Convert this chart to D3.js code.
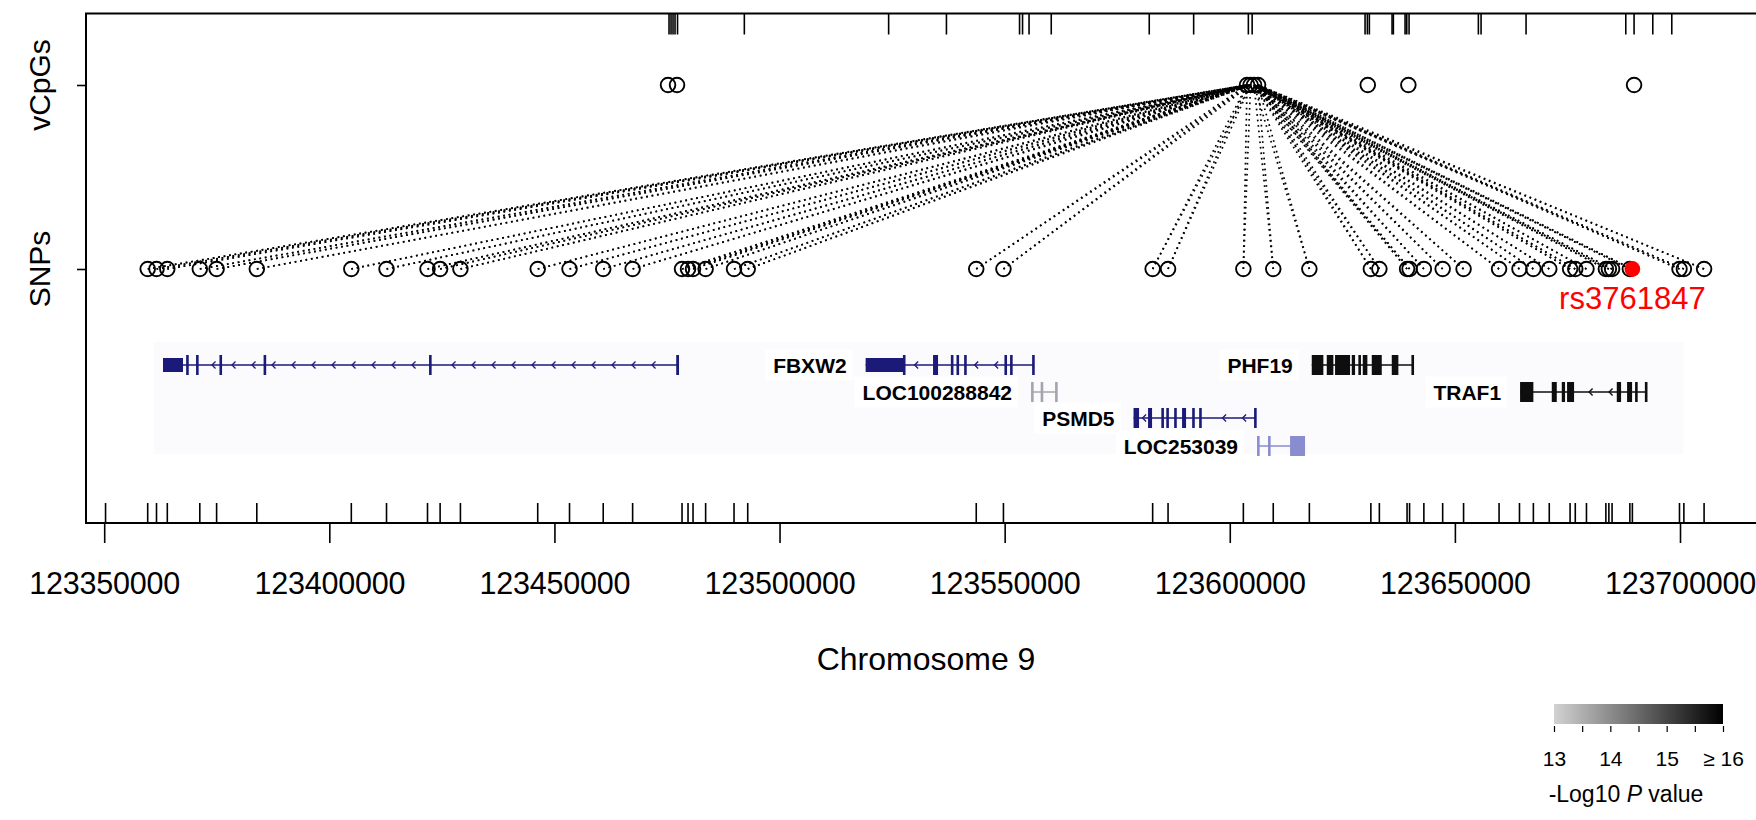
<!DOCTYPE html>
<html>
<head>
<meta charset="utf-8">
<script src="https://cdn.jsdelivr.net/npm/d3@7"></script>
<style>
  html, body { margin: 0; padding: 0; background: #ffffff; }
  svg { display: block; font-family: "Liberation Sans", Arial, Helvetica, sans-serif; }
</style>
</head>
<body>
<svg id="chart" width="1756" height="820"></svg>
<script>
// ---------------- data (chromosome 9 coordinates, bp) ----------------
const axisTicks = [123350000, 123400000, 123450000, 123500000, 123550000, 123600000, 123650000, 123700000];
const axisTitle = "Chromosome 9";
const trackNames = ["SNPs", "vCpGs"];

// associated vCpGs (circles) and all CpGs tested (top rug)
const vcpgPos = [123475231, 123477231, 123603839, 123604616, 123605394, 123606282, 123630649, 123639667, 123689799];
const cpgRugPos = [
  123475453, 123475897, 123476342, 123476786, 123477341, 123492179, 123524231, 123537070,
  123553306, 123553973, 123555417, 123560348, 123582115, 123591978, 123604128, 123604972,
  123630049, 123630560, 123631004, 123636046, 123636335, 123638934, 123639312, 123639823,
  123655215, 123655815, 123665810, 123687956, 123689799, 123693953, 123698173
];

// associated SNPs (circles)
const snpPos = [
  123359662, 123361617, 123364016, 123371235, 123374966, 123383896, 123404886, 123412705,
  123421811, 123424610, 123429119, 123446289, 123453352, 123460838, 123467368, 123478341,
  123479674, 123480784, 123483583, 123489891, 123492934, 123543689, 123549730, 123582871,
  123586292, 123603017, 123609658, 123617677, 123631337, 123633225, 123639379, 123639933,
  123643110, 123647286, 123651930, 123659813, 123664345, 123667432, 123670963, 123675584,
  123676739, 123679225, 123683535, 123684201, 123684912, 123688864, 123689422, 123699884,
  123700861, 123705350
];
// SNPs tested (bottom rug)
const snpRugPos = [123350300, ...snpPos];

// index into vcpgPos of the vCpGs each SNP is associated with
const snpTargets = [
  [2,3],[2,3],[2,3],[2,3],[2,3],[2,3],[2,3],[2,3],[2,3],[2,3],
  [2,3],[2,3],[2,3],[2,3],[2,3],[2,3],[2,3],[2,3],[2,3],[2,3],
  [2,3],[2,3],[2,3],[2,3],[2,3],[2,3],[4,5],[4,5],[4,5],[4,5],
  [4,5],[4,5],[4,5],[4,5],[4,5],[4,5],[4,5],[4,5],[4,5],[4,5],
  [4,5],[4,5],[4,5],[4,5],[4,5],[4,5],[4,5],[4,5],[4,5],[4,5]
];
const leadSnpId = "rs3761847";
const leadSnpPos = 123689422;

// gene models: exons as [start, end, coding(1)/UTR(0)]
const geneNames  = ["MEGF9", "FBXW2", "LOC100288842", "PSMD5", "LOC253039", "PHF19", "TRAF1"];
const geneLabels = [null, "FBXW2", "LOC100288842", "PSMD5", "LOC253039", "PHF19", "TRAF1"];
const geneStrand = ["-", "-", "+", "-", "+", "-", "-"];
const geneExons = [
  [[123363061,123367503,0],[123368200,123368650,1],[123370400,123370850,1],[123375600,123376050,1],
   [123385400,123385850,1],[123422150,123422600,1],[123477050,123477674,1]],
  [[123519122,123527652,0],[123527400,123527800,1],[123534093,123535204,1],[123538050,123538500,1],
   [123539300,123539750,1],[123541000,123541450,1],[123549950,123550400,1],[123551200,123551650,1],
   [123556100,123556527,1]],
  [[123555861,123556300,1],[123558000,123558450,1],[123561200,123561636,1]],
  [[123578628,123579851,1],[123581850,123582738,1],[123584800,123585250,1],[123585900,123586350,1],
   [123587650,123588100,1],[123589402,123590291,1],[123591650,123592100,1],[123593200,123593650,1],
   [123605400,123605838,1]],
  [[123606060,123606500,1],[123608500,123608950,1],[123613390,123616721,1]],
  [[123618210,123620787,1],[123621542,123623008,1],[123623385,123626717,1],[123627095,123627828,1],
   [123628561,123628939,1],[123629538,123630560,1],[123631537,123633758,1],[123635980,123637446,1],
   [123640350,123640777,1]],
  [[123664480,123667432,1],[123671519,123672630,1],[123673740,123674473,1],[123674917,123676472,1],
   [123685957,123686912,1],[123688245,123689356,1],[123690022,123690466,1],[123692200,123692621,1]]
];

// colour key
const legendTicks = [13, 13.5, 14, 14.5, 15, 15.5, 16];
const legendLabels = {13: "13", 14: "14", 15: "15", 16: "\u2265 16"};
const legendTitle = ["-Log10 ", "P", " value"];

// ---------------- layout & style ----------------
const svg = d3.select("#chart");
const frame = { left: 86, top: 13.5, bottom: 523, right: 1766 };
const x = d3.scaleLinear().domain([123350000, 123700000]).range([104.2, 1680]);
const y = d3.scalePoint().domain(trackNames).range([269, 85]);

const laneY = [365, 392, 418, 446];
const geneLane = { MEGF9: 0, FBXW2: 0, PHF19: 0, LOC100288842: 1, TRAF1: 1, PSMD5: 2, LOC253039: 3 };
const geneColor = {
  MEGF9: "#1b1a78", FBXW2: "#1b1a78", PSMD5: "#1b1a78",
  LOC100288842: "#a4a4ac", LOC253039: "#8a8cd0",
  PHF19: "#0e0e0e", TRAF1: "#0e0e0e"
};

// faint backdrop of the gene annotation panel
svg.append("rect")
  .attr("x", 154).attr("y", 342).attr("width", 1529).attr("height", 112)
  .attr("fill", "#fbfbfd");

// ---------------- gene track ----------------
const gGenes = svg.append("g");
geneNames.forEach((name, i) => {
  const exons = geneExons[i];
  const start = d3.min(exons, e => e[0]);
  const end = d3.max(exons, e => e[1]);
  const yc = laneY[geneLane[name]];
  const col = geneColor[name];
  const g = gGenes.append("g");

  // label with a white box behind it
  if (geneLabels[i]) {
    const t = g.append("text")
      .attr("x", x(start) - 19).attr("y", yc)
      .attr("dy", "0.36em")
      .attr("text-anchor", "end")
      .attr("font-size", 21).attr("font-weight", "bold")
      .attr("fill", "#000")
      .text(geneLabels[i]);
    const bb = t.node().getBBox();
    g.insert("rect", "text")
      .attr("x", bb.x - 8).attr("y", bb.y - 4)
      .attr("width", bb.width + 14).attr("height", bb.height + 8)
      .attr("fill", "#ffffff");
  }

  // intron backbone
  g.append("line")
    .attr("x1", x(start)).attr("x2", x(end))
    .attr("y1", yc).attr("y2", yc)
    .attr("stroke", col).attr("stroke-width", 1.5);

  // strand chevrons on intronic stretches
  const inExon = px => exons.some(e => px > x(e[0]) - 4 && px < x(e[1]) + 4);
  for (let px = x(start) + 10; px < x(end) - 6; px += 20) {
    if (inExon(px)) continue;
    const d = geneStrand[i] === "-"
      ? `M${px + 2.5},${yc - 3.5}L${px - 1},${yc}L${px + 2.5},${yc + 3.5}`
      : `M${px - 2.5},${yc - 3.5}L${px + 1},${yc}L${px - 2.5},${yc + 3.5}`;
    g.append("path").attr("d", d).attr("fill", "none")
      .attr("stroke", col).attr("stroke-width", 1.3);
  }

  // exons
  g.selectAll("rect.exon").data(exons).join("rect")
    .attr("class", "exon")
    .attr("x", e => x(e[0]))
    .attr("width", e => Math.max(2.6, x(e[1]) - x(e[0])))
    .attr("y", e => yc - (e[2] ? 10 : 7))
    .attr("height", e => e[2] ? 20 : 14)
    .attr("fill", col);
});

// ---------------- SNP – vCpG links ----------------
const links = [];
snpPos.forEach((p, i) => snpTargets[i].forEach(t => links.push([p, vcpgPos[t]])));
svg.append("g").selectAll("line").data(links).join("line")
  .attr("x1", d => x(d[0])).attr("y1", y("SNPs"))
  .attr("x2", d => x(d[1])).attr("y2", y("vCpGs"))
  .attr("stroke", "#000").attr("stroke-width", 1.7)
  .attr("stroke-dasharray", "1.7,3.8");

// ---------------- circles ----------------
const R = 7.3;
svg.append("g").selectAll("circle").data(vcpgPos).join("circle")
  .attr("cx", d => x(d)).attr("cy", y("vCpGs")).attr("r", R)
  .attr("fill", "none").attr("stroke", "#000").attr("stroke-width", 1.9);
svg.append("g").selectAll("circle").data(snpPos.filter(p => p !== leadSnpPos)).join("circle")
  .attr("cx", d => x(d)).attr("cy", y("SNPs")).attr("r", R)
  .attr("fill", "none").attr("stroke", "#000").attr("stroke-width", 1.9);
svg.append("circle")
  .attr("cx", x(leadSnpPos)).attr("cy", y("SNPs")).attr("r", R + 0.6)
  .attr("fill", "#ff0000");
svg.append("text")
  .attr("x", x(leadSnpPos)).attr("y", 309)
  .attr("text-anchor", "middle").attr("font-size", 31).attr("fill", "#ff0000")
  .text(leadSnpId);

// ---------------- rugs ----------------
svg.append("g").selectAll("line").data(cpgRugPos).join("line")
  .attr("x1", d => x(d)).attr("x2", d => x(d))
  .attr("y1", frame.top).attr("y2", frame.top + 21)
  .attr("stroke", "#000").attr("stroke-width", 1.6);
svg.append("g").selectAll("line").data(snpRugPos).join("line")
  .attr("x1", d => x(d)).attr("x2", d => x(d))
  .attr("y1", frame.bottom).attr("y2", frame.bottom - 20)
  .attr("stroke", "#000").attr("stroke-width", 1.6);

// ---------------- frame & axes ----------------
svg.append("rect")
  .attr("x", frame.left).attr("y", frame.top)
  .attr("width", frame.right - frame.left).attr("height", frame.bottom - frame.top)
  .attr("fill", "none").attr("stroke", "#000").attr("stroke-width", 2);

const xAxis = svg.append("g")
  .attr("transform", `translate(0,${frame.bottom})`)
  .call(d3.axisBottom(x).tickValues(axisTicks).tickFormat(d3.format("d"))
    .tickSize(20).tickPadding(29));
xAxis.select(".domain").remove();
xAxis.selectAll(".tick line").attr("stroke", "#000").attr("stroke-width", 1.6);
xAxis.selectAll(".tick text")
  .attr("font-size", 30.5).attr("letter-spacing", -0.2).attr("fill", "#000")
  .attr("font-family", "'Liberation Sans', Arial, sans-serif");

svg.append("text")
  .attr("x", (frame.left + frame.right) / 2).attr("y", 670)
  .attr("text-anchor", "middle").attr("font-size", 32).attr("fill", "#000")
  .text(axisTitle);

const yAxis = svg.append("g")
  .attr("transform", `translate(${frame.left},0)`)
  .call(d3.axisLeft(y).tickSize(9).tickFormat(""));
yAxis.select(".domain").remove();
yAxis.selectAll(".tick line").attr("stroke", "#000").attr("stroke-width", 1.6);

svg.append("g").selectAll("text").data(trackNames).join("text")
  .attr("transform", d => `translate(39,${y(d)}) rotate(-90)`)
  .attr("dy", "0.36em")
  .attr("text-anchor", "middle").attr("font-size", 30).attr("fill", "#000")
  .text(d => d);

// ---------------- colour key ----------------
const lg = { x0: 1554, x1: 1723, y: 704, h: 20 };
const defs = svg.append("defs");
const grad = defs.append("linearGradient").attr("id", "pgrad");
grad.append("stop").attr("offset", "0%").attr("stop-color", "#d2d2d2");
grad.append("stop").attr("offset", "100%").attr("stop-color", "#000000");
svg.append("rect")
  .attr("x", lg.x0).attr("y", lg.y).attr("width", lg.x1 - lg.x0).attr("height", lg.h)
  .attr("fill", "url(#pgrad)");

const lx = d3.scaleLinear().domain([13, 16]).range([lg.x0, lg.x1]);
const lAxis = svg.append("g")
  .attr("transform", `translate(0,${lg.y + lg.h + 2})`)
  .call(d3.axisBottom(lx).tickValues(legendTicks)
    .tickFormat(d => legendLabels[d] || "").tickSize(6).tickPadding(19));
lAxis.select(".domain").remove();
lAxis.selectAll(".tick line").attr("stroke", "#000").attr("stroke-width", 1.2);
lAxis.selectAll(".tick text").attr("font-size", 21).attr("fill", "#000")
  .attr("font-family", "'Liberation Sans', Arial, sans-serif");

const lt = svg.append("text")
  .attr("x", 1626).attr("y", 802)
  .attr("text-anchor", "middle").attr("font-size", 23).attr("fill", "#000");
lt.append("tspan").text(legendTitle[0]);
lt.append("tspan").attr("font-style", "italic").text(legendTitle[1]);
lt.append("tspan").text(legendTitle[2]);
</script>
</body>
</html>
